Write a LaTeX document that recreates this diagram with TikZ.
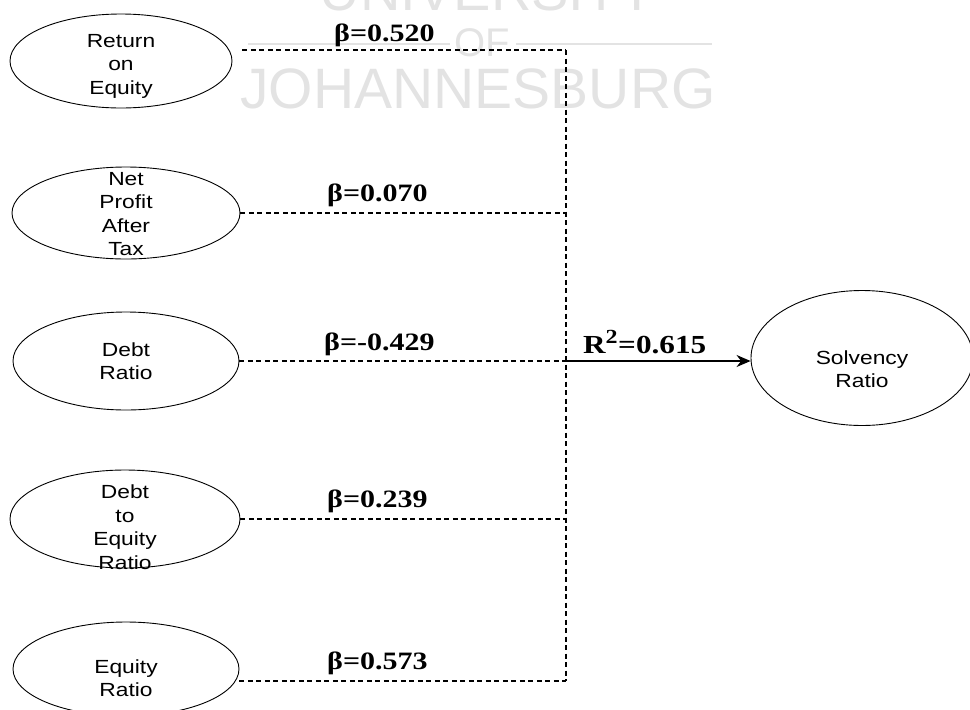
\documentclass[tikz,border=0pt]{standalone}
\usepackage{fontspec}
\setmainfont{Liberation Sans}
\newfontfamily\lblfont[FakeStretch=1.2]{Liberation Sans}
\newfontfamily\betafont[FakeStretch=1.2]{Liberation Serif}
\newfontfamily\wmfont{Liberation Sans}
\usetikzlibrary{shapes.geometric,arrows.meta}
\tikzset{
  varnode/.style={ellipse, draw, line width=0.9pt, inner sep=0pt},
  vartext/.style={inner sep=0pt, align=center, font=\lblfont\fontsize{19}{23.5}\selectfont},
  dl/.style={dash pattern=on 5pt off 3.5pt, line width=1.2pt},
  blab/.style={font=\betafont\bfseries\fontsize{25}{28}\selectfont, inner sep=0pt},
  wm/.style={text=black!11, inner sep=0pt},
}
\begin{document}
\begin{tikzpicture}[x=1pt,y=-1pt]
\useasboundingbox (0,0) rectangle (970,710);
\clip (0,0) rectangle (970,710);
% watermark
\node[wm, font=\wmfont\fontsize{56}{60}\selectfont, anchor=base] (wm1) at (488,10) {UNIVERSITY};
\node[wm, font=\wmfont\fontsize{40}{42}\selectfont, anchor=base] (wm2) at (482,56) {OF};
\draw[black!11, line width=2pt] (248,44) -- (450,44);
\draw[black!11, line width=2pt] (516,44) -- (712,44);
\node[wm, font=\wmfont\fontsize{57}{60}\selectfont, anchor=base] (wm3) at (478,108) {JOHANNESBURG};
% variables
\node[varnode, minimum width=222pt, minimum height=94pt] (roe) at (121,61) {};
\node[varnode, minimum width=228pt, minimum height=92pt] (npat) at (126,213) {};
\node[varnode, minimum width=226pt, minimum height=98pt] (dr) at (126,361) {};
\node[varnode, minimum width=230pt, minimum height=98pt] (der) at (125,519) {};
\node[varnode, minimum width=226pt, minimum height=94pt] (er) at (126,669) {};
\node[varnode, minimum width=222pt, minimum height=135pt] (sr) at (862,358) {};
\node[vartext] (roet) at ([yshift=-5pt]roe.center) {Return\\on\\Equity};
\node[vartext] (npatt) at ([yshift=-1pt]npat.center) {Net\\Profit\\After\\Tax};
\node[vartext] (drt) at ([yshift=0pt]dr.center) {Debt\\Ratio};
\node[vartext] (dert) at ([yshift=-8pt]der.center) {Debt\\to\\Equity\\Ratio};
\node[vartext] (ert) at ([yshift=-9pt]er.center) {Equity\\Ratio};
\node[vartext] (srt) at ([yshift=-11pt]sr.center) {Solvency\\Ratio};
% junctions
\coordinate (j1) at (566,50);
\coordinate (j2) at (566,213);
\coordinate (j3) at (566,361);
\coordinate (j4) at (566,519);
\coordinate (j5) at (566,681);
% connectors
\draw[dl] ([xshift=10pt]roe.east |- j1) -- (j1);
\draw[dl] (npat.east) -- (j2);
\draw[dl] (dr.east) -- (j3);
\draw[dl] (der.east) -- (j4);
\draw[dl] (er.east |- j5) -- (j5);
\draw[dl] (j1) -- (j5);
\draw[line width=1.2pt, -{Stealth[length=14pt,width=12pt]}] (j3) -- (sr.west |- j3);
% labels
\node[blab, anchor=base west] (b1) at (334,41) {β=0.520};
\node[blab, anchor=base west] (b2) at (327,201) {β=0.070};
\node[blab, anchor=base west] (b3) at (324,350) {β=-0.429};
\node[blab, anchor=base west] (b4) at (327,507) {β=0.239};
\node[blab, anchor=base west] (b5) at (327,669) {β=0.573};
\node[blab, anchor=base west, font=\betafont\bfseries\fontsize{26}{30}\selectfont] (r2) at (583,353) {R\textsuperscript{\fontsize{20}{20}\selectfont 2}=0.615};
\end{tikzpicture}
\end{document}
